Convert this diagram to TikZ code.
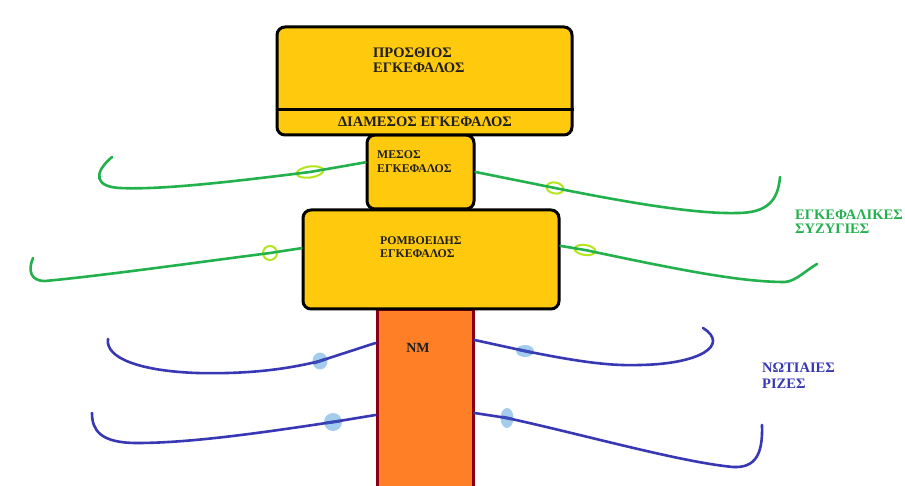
\documentclass[tikz,border=0pt]{standalone}
\usepackage{fontspec}
\setmainfont{Liberation Serif}
\usetikzlibrary{shapes.geometric}
\definecolor{gold}{HTML}{FFC90E}
\definecolor{cordorange}{HTML}{FF7F27}
\definecolor{cordred}{HTML}{880015}
\definecolor{nervegreen}{HTML}{22B14C}
\definecolor{ringlime}{HTML}{B5E61D}
\definecolor{nerveblue}{HTML}{3838B4}
\definecolor{ringblue}{HTML}{A4CCEC}
\definecolor{dashblue}{HTML}{3A4AB8}
\begin{document}
\begin{tikzpicture}[x=1pt,y=-1pt,
  brainbox/.style={draw=black, line width=3pt, fill=gold, rounded corners=8pt, inner sep=0pt},
  cordbox/.style={draw=cordred, line width=3pt, fill=cordorange, inner sep=0pt},
  lbl/.style={anchor=west, align=left, inner sep=0pt, text=black!88},
  smalltxt/.style={font=\bfseries\fontsize{11.8}{13.5}\selectfont},
  bigtxt/.style={font=\bfseries\fontsize{14.5}{15.5}\selectfont},
  gnerve/.style={draw=nervegreen, line width=2.6pt, line cap=round},
  bnerve/.style={draw=nerveblue, line width=2.6pt, line cap=round},
  gring/.style={ellipse, draw=ringlime, line width=2pt, inner sep=0pt},
  bring/.style={ellipse, fill=ringblue, draw=none, inner sep=0pt},
  gdash/.style={draw=dashblue, line width=3pt}]

\useasboundingbox (0,0) rectangle (905,486);
\fill[white] (0,0) rectangle (905,486);

% boxes
\node[cordbox, minimum width=96pt, minimum height=190pt] (cord) at (425,405) {};
\node[brainbox, minimum width=256pt, minimum height=99pt] (rho) at (431,259.5) {};
\node[brainbox, minimum width=107pt, minimum height=74pt] (mes) at (420.5,172) {};
\node[brainbox, minimum width=295pt, minimum height=108pt] (pros) at (424.5,81) {};
\draw[line width=3pt] (pros.west |- 0,110) -- (pros.east |- 0,110);

% texts
\node[lbl, bigtxt] (prostxt) at (373,60.5) {ΠΡΟΣΘΙΟΣ\\ΕΓΚΕΦΑΛΟΣ};
\node[bigtxt, inner sep=0pt, text=black!88] (diatxt) at (425,121.5) {ΔΙΑΜΕΣΟΣ ΕΓΚΕΦΑΛΟΣ};
\node[lbl, smalltxt] (mestxt) at (377,161.5) {ΜΕΣΟΣ\\ΕΓΚΕΦΑΛΟΣ};
\node[lbl, smalltxt] (rhotxt) at (380,247) {ΡΟΜΒΟΕΙΔΗΣ\\ΕΓΚΕΦΑΛΟΣ};
\node[font=\bfseries\fontsize{14}{15}\selectfont, inner sep=0pt, text=black!88] (nmtxt) at (418,348) {ΝΜ};
\node[lbl, text=nervegreen, font=\bfseries\fontsize{14.5}{13.5}\selectfont] (cranial) at (795,221.5) {ΕΓΚΕΦΑΛΙΚΕΣ\\ΣΥΖΥΓΙΕΣ};
\node[lbl, text=nerveblue, font=\bfseries\fontsize{14.5}{15.5}\selectfont] (spinal) at (762,375.5) {ΝΩΤΙΑΙΕΣ\\ΡΙΖΕΣ};

% ganglia on the spinal roots
\node[bring, minimum width=15pt, minimum height=17pt] (b1) at (320,361) {};
\node[bring, minimum width=18pt, minimum height=18pt] (b2) at (333,422) {};
\node[bring, minimum width=18pt, minimum height=12pt] (b3) at (525,351) {};
\node[bring, minimum width=13pt, minimum height=20pt] (b4) at (507,418) {};

% free ends
\coordinate (g1end) at (112,157);
\coordinate (g2end) at (33,258);
\coordinate (g3end) at (780,177);
\coordinate (g4end) at (817,264);
\coordinate (b1end) at (108,339);
\coordinate (b2end) at (92,413);
\coordinate (b3end) at (703,328);
\coordinate (b4end) at (762,425);

% green cranial nerves
\node[gring, minimum width=27pt, minimum height=11pt, rotate=8] (g1) at (310,172) {};
\node[gring, minimum width=14pt, minimum height=14pt] (g2) at (270,253) {};
\node[gring, minimum width=17pt, minimum height=11pt, rotate=-10] (g3) at (555,188) {};
\node[gring, minimum width=21pt, minimum height=10pt, rotate=-8] (g4) at (585,250) {};

\draw[gnerve] (mes.170) -- (g1.center) .. controls (230,182) and (160,190) .. (120,188)
  .. controls (96,187) and (92,174) .. (g1end);
\draw[gnerve] (rho.175) -- (g2.center) .. controls (200,262) and (100,276) .. (45,281)
  .. controls (30,281) and (28,270) .. (g2end);
\draw[gnerve] (mes.east) -- (g3.center) .. controls (640,205) and (700,214) .. (737,213)
  .. controls (768,213) and (778,200) .. (g3end);
\draw[gnerve] (rho.6) -- (g4.center) .. controls (680,270) and (740,282) .. (785,282)
  .. controls (796,281) and (805,271) .. (g4end);

% blue spinal roots
\draw[bnerve] (cord.west |- 0,343) -- (b1.center) .. controls (280,371) and (240,374) .. (197,373)
  .. controls (140,371) and (105,358) .. (b1end);
\draw[bnerve] (cord.west |- 0,415) -- (b2.center) .. controls (260,433) and (190,443) .. (137,443)
  .. controls (100,443) and (92,430) .. (b2end);
\draw[bnerve] (cord.east |- 0,340) -- (b3.center) .. controls (580,362) and (610,366) .. (640,365)
  .. controls (700,364) and (730,345) .. (b3end);
\draw[bnerve] (cord.east |- 0,413) -- (b4.center) .. controls (585,435) and (680,462) .. (733,467)
  .. controls (755,468) and (763,455) .. (b4end);

% dark dash across each ganglion
\draw[gdash] (b1.center) ++(-6,2) -- ++(12,-4);
\draw[gdash] (b2.center) ++(-7,1) -- ++(14,-2);
\draw[gdash] (b3.center) ++(-7,-1.5) -- ++(14,3);
\draw[gdash] (b4.center) ++(-5,-1) -- ++(10,2);
\end{tikzpicture}
\end{document}
